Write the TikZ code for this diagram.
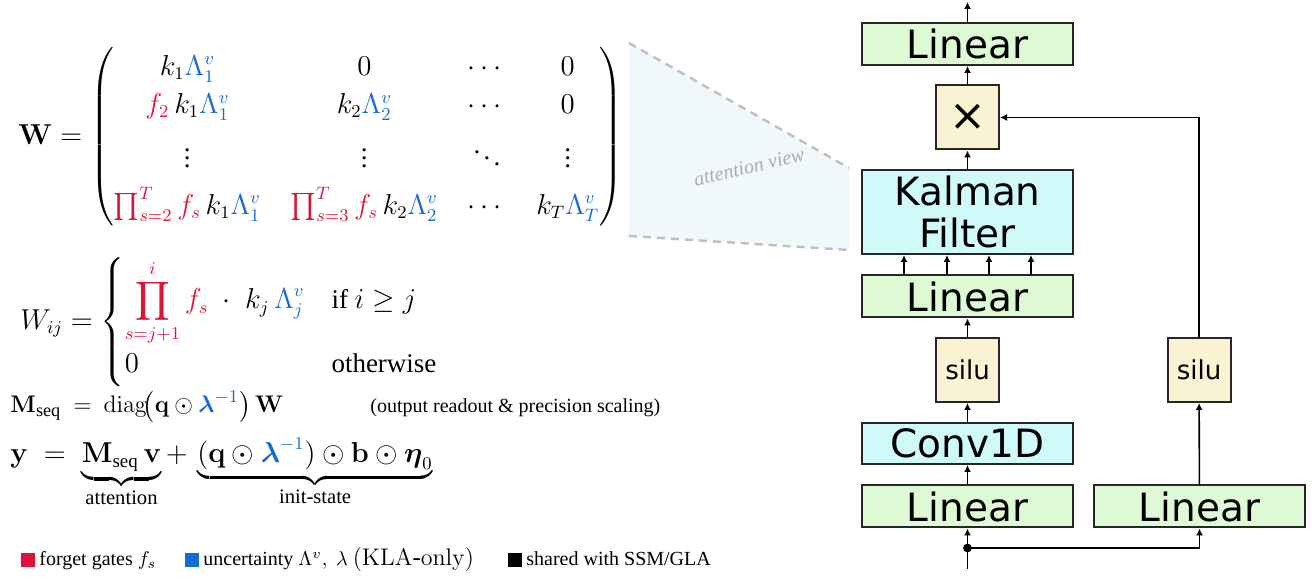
\documentclass[tikz,border=0pt]{standalone}
\usepackage{amsmath,amssymb}
\usepackage[no-math]{fontspec}
\setmainfont{Liberation Serif}
\newfontfamily\boxfont{DejaVu Sans}
\usetikzlibrary{arrows.meta,positioning}

\definecolor{kred}{RGB}{220,20,60}
\definecolor{kblue}{RGB}{20,105,210}
\definecolor{lingreen}{RGB}{222,250,212}
\definecolor{kfcyan}{RGB}{208,250,250}
\definecolor{actcream}{RGB}{249,242,211}
\definecolor{viewblue}{RGB}{241,248,252}

\newcommand{\rd}[1]{{\color{kred}#1}}
\newcommand{\bl}[1]{{\color{kblue}#1}}

\tikzset{
  eqn/.style={inner sep=0pt,font=\fontsize{13.5}{16}\selectfont},
  eqline/.style={inner sep=0pt,font=\fontsize{13}{16}\selectfont},
  leg/.style={inner sep=0pt,font=\fontsize{10}{12}\selectfont},
  sq/.style={inner sep=0pt,minimum size=7pt},
  blk/.style={draw=black!85,line width=1pt,inner sep=0pt,minimum width=105.5pt,minimum height=21pt,
    font=\boxfont\fontsize{19.5}{21}\selectfont},
  lin/.style={blk,fill=lingreen},
  act/.style={blk,fill=actcream,minimum width=31.5pt,minimum height=32pt,font=\boxfont\fontsize{13}{15}\selectfont},
  arr/.style={->,line width=0.8pt},
}

\begin{document}
\begin{tikzpicture}[x=0.5pt,y=-0.5pt,>={Latex[length=3.5pt,width=3.5pt]}]
\useasboundingbox (0,0) rectangle (1313,581);

% zoom wedge
\fill[viewblue] (629,43) -- (849,168) -- (849,250) -- (629,236) -- cycle;
\draw[gray!50,line width=1.2pt,dash pattern=on 4pt off 3pt] (629,43) -- (849,168);
\draw[gray!50,line width=1.2pt,dash pattern=on 4pt off 3pt] (629,236) -- (849,250);
\node[rotate=13,text=gray!65,font=\itshape\fontsize{10}{12}\selectfont] (viewlbl) at (749,167) {attention view};

% equations
{\renewcommand{\arraystretch}{1.2}\setlength{\arraycolsep}{7.5pt}
\node[eqn,anchor=west] (wmat) at (18,137) {$\mathbf{W} = \begin{pmatrix}
  k_1\bl{\Lambda_1^v} & 0 & \cdots & 0\\
  \rd{f_2}\,k_1\bl{\Lambda_1^v} & k_2\bl{\Lambda_2^v} & \cdots & 0\\[6pt]
  \vdots & \vdots & \ddots & \vdots\\[4pt]
  \rd{\prod_{s=2}^{T} f_s}\,k_1\bl{\Lambda_1^v} & \rd{\prod_{s=3}^{T} f_s}\,k_2\bl{\Lambda_2^v} & \cdots & k_T\bl{\Lambda_T^v}
\end{pmatrix}$};}

\node[eqn,anchor=west] (wij) at (20,322) {$W_{ij} = \begin{cases}
  \displaystyle\rd{\prod_{s=j+1}^{i} f_s}\;\cdot\;k_j\,\bl{\Lambda_j^v} & \text{if } i \ge j\\
  0 & \text{otherwise}
\end{cases}$};

\node[eqline,anchor=base west] (mseq) at (10,413) {$\mathbf{M}_{\text{seq}} \:=\: \operatorname{diag}\!\bigl(\mathbf{q}\odot\bl{\boldsymbol{\lambda}^{-1}}\bigr)\,\mathbf{W}$};
\node[anchor=base west,inner sep=0pt,font=\fontsize{10}{12}\selectfont] (mnote) at (370,413) {(output readout \& precision scaling)};

\node[eqn,anchor=base west] (yeq) at (10,463) {$\mathbf{y} \;=\; \underbrace{\mathbf{M}_{\text{seq}}\,\mathbf{v}}_{\text{\fontsize{10.3}{12}\selectfont attention}} +\, \underbrace{(\mathbf{q}\odot\bl{\boldsymbol{\lambda}^{-1}})\odot\mathbf{b}\odot\boldsymbol{\eta}_0}_{\text{\fontsize{10.3}{12}\selectfont init-state}}$};

% legend
\node[sq,fill=kred] (sqred) at (27.5,560.5) {};
\node[leg,anchor=base west] (lgred) at (39,566) {forget gates $f_s$};
\node[sq,fill=kblue] (sqblue) at (192,560.5) {};
\node[leg,anchor=base west] (lgblue) at (203,566) {uncertainty $\Lambda^v,\;\lambda$ {\fontsize{12.5}{15}\selectfont$(\mathrm{KLA}$-$\mathrm{only})$}};
\node[sq,fill=black] (sqblack) at (515,560.5) {};
\node[leg,anchor=base west] (lgblack) at (526,566) {shared with SSM/GLA};

% block stack
\node[lin] (lin1) at (967.5,506.5) {Linear};
\node[lin] (lin2) at (1199.5,506.5) {Linear};
\node[blk,fill=kfcyan,minimum height=20.5pt] (conv) at (967.5,443.5) {Conv1D};
\node[act] (silu1) at (967.5,370) {silu};
\node[act] (silu2) at (1199,370) {silu};
\node[lin] (lin3) at (967.5,296.5) {Linear};
\node[blk,fill=kfcyan,minimum height=42pt,align=center] (kf) at (967.5,212) {Kalman\\Filter};
\node[act,font=\boxfont\fontsize{22}{22}\selectfont] (mult) at (967.5,117.5) {×};
\node[lin] (lin4) at (967.5,44) {Linear};

\coordinate (inp) at (967.5,569);
\coordinate (fork) at (967.5,548);
\coordinate (outp) at (967.5,2);

\draw[line width=0.8pt] (inp) -- (fork);
\fill (fork) circle (2.2pt);
\draw[arr] (fork) -- (lin1);
\draw[arr] (fork) -| (lin2);
\draw[arr] (lin1) -- (conv);
\draw[arr] (conv) -- (silu1);
\draw[arr] (silu1) -- (lin3);
\foreach \dx in {-63.5,-20.5,21.5,63.5}
  \draw[arr] ([xshift=\dx*0.5pt]lin3.north) -- ([xshift=\dx*0.5pt]kf.south);
\draw[arr] (kf) -- (mult);
\draw[arr] (mult) -- (lin4);
\draw[arr] (lin4) -- (outp);
\draw[arr] (lin2) -- (silu2);
\draw[arr] (silu2) |- (mult);
\end{tikzpicture}
\end{document}
